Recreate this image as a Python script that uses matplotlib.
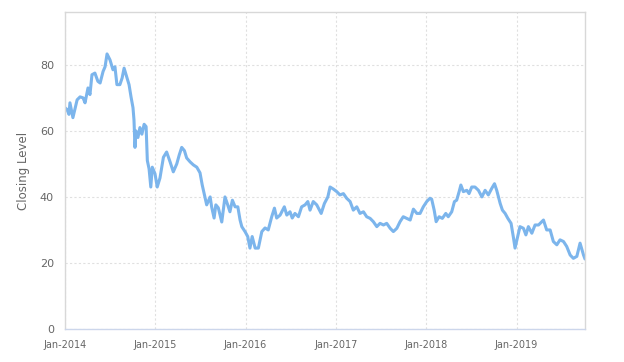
import matplotlib
matplotlib.use("Agg")
import matplotlib.pyplot as plt
import pandas as pd

dates = [
    "2014-01-01", "2014-01-09", "2014-01-17", "2014-01-21", "2014-02-02", "2014-02-19",
    "2014-03-03", "2014-03-15", "2014-03-23", "2014-04-04", "2014-04-12", "2014-04-20",
    "2014-05-02", "2014-05-14", "2014-05-23", "2014-06-04", "2014-06-12", "2014-06-20",
    "2014-07-02", "2014-07-14", "2014-07-22", "2014-07-30", "2014-08-11", "2014-08-20",
    "2014-08-28", "2014-09-09", "2014-09-17", "2014-09-25", "2014-10-03", "2014-10-07",
    "2014-10-11", "2014-10-15", "2014-10-23", "2014-10-31", "2014-11-08", "2014-11-17",
    "2014-11-25", "2014-11-30", "2014-12-07", "2014-12-14", "2014-12-20", "2014-12-31",
    "2015-01-09", "2015-01-20", "2015-02-03", "2015-02-16", "2015-03-02", "2015-03-15",
    "2015-03-29", "2015-04-08", "2015-04-18", "2015-04-29", "2015-05-08", "2015-05-22",
    "2015-06-04", "2015-06-18", "2015-07-01", "2015-07-10", "2015-07-21", "2015-07-28",
    "2015-08-11", "2015-08-17", "2015-08-27", "2015-09-03", "2015-09-13", "2015-09-27",
    "2015-10-10", "2015-10-21", "2015-10-30", "2015-11-09", "2015-11-20", "2015-12-01",
    "2015-12-10", "2015-12-17", "2015-12-30", "2016-01-10", "2016-01-19", "2016-01-28",
    "2016-02-09", "2016-02-22", "2016-03-07", "2016-03-20", "2016-04-02", "2016-04-16",
    "2016-04-27", "2016-05-06", "2016-05-20", "2016-06-06", "2016-06-16", "2016-06-29",
    "2016-07-08", "2016-07-19", "2016-08-02", "2016-08-15", "2016-08-29", "2016-09-09",
    "2016-09-18", "2016-10-01", "2016-10-15", "2016-11-02", "2016-11-15", "2016-11-29",
    "2016-12-08", "2016-12-21", "2017-01-04", "2017-01-17", "2017-01-31", "2017-02-13",
    "2017-02-27", "2017-03-12", "2017-03-26", "2017-04-08", "2017-04-22", "2017-05-05",
    "2017-05-19", "2017-06-01", "2017-06-15", "2017-06-28", "2017-07-12", "2017-07-25",
    "2017-08-08", "2017-08-21", "2017-09-04", "2017-09-17", "2017-09-30", "2017-10-14",
    "2017-10-28", "2017-11-10", "2017-11-24", "2017-12-07", "2017-12-20", "2018-01-03",
    "2018-01-16", "2018-01-23", "2018-02-02", "2018-02-10", "2018-02-22", "2018-03-07",
    "2018-03-21", "2018-03-31", "2018-04-14", "2018-04-25", "2018-05-04", "2018-05-14",
    "2018-05-21", "2018-05-31", "2018-06-14", "2018-06-23", "2018-07-04", "2018-07-17",
    "2018-07-31", "2018-08-14", "2018-08-27", "2018-09-09", "2018-09-23", "2018-10-04",
    "2018-10-13", "2018-10-27", "2018-11-05", "2018-11-16", "2018-11-27", "2018-12-10",
    "2018-12-20", "2018-12-26", "2019-01-09", "2019-01-15", "2019-01-29", "2019-02-08",
    "2019-02-18", "2019-03-04", "2019-03-17", "2019-03-31", "2019-04-13", "2019-04-20",
    "2019-05-03", "2019-05-17", "2019-05-30", "2019-06-13", "2019-06-26", "2019-07-10",
    "2019-07-23", "2019-08-06", "2019-08-19", "2019-09-02", "2019-09-15", "2019-09-29",
    "2019-10-05",
]

closing = [
    67, 66.5, 65, 68.5, 64, 69.4,
    70.3, 70, 68.5, 73, 71, 77,
    77.5, 75, 74.5, 78, 79.4, 83.3,
    81.5, 78.5, 79.4, 74, 74, 76,
    79, 76, 74, 70.3, 67, 63.3,
    55, 60, 58, 61, 59, 62,
    61.3, 51, 48.5, 43, 49, 47,
    43, 45.7, 52, 53.6, 50.6, 47.6,
    50, 52.7, 55, 54, 51.8, 50.6,
    49.7, 49, 47.3, 43.6, 40, 37.6,
    40, 37, 33.6, 37.6, 36.7, 32.4,
    40, 37.6, 35.5, 39, 37, 37,
    33, 31, 29.5, 28, 24.5, 28,
    24.5, 24.5, 29.5, 30.6, 30, 34,
    36.6, 33.6, 34.5, 37, 34.5, 35.5,
    33.6, 35, 34, 37, 37.6, 38.6,
    36, 38.6, 37.6, 35, 38, 40,
    43, 42.4, 41.6, 40.6, 41, 39.6,
    38.6, 36, 37, 35, 35.5, 34,
    33.5, 32.5, 31, 32, 31.5, 32,
    30.5, 29.5, 30.5, 32.5, 34, 33.5,
    33, 36.3, 35, 35, 37, 38.6,
    39.6, 39.3, 36, 32.5, 34, 33.5,
    35, 34, 35.5, 38.6, 39, 41.6,
    43.6, 41.6, 42, 41, 43, 43,
    42, 40, 42, 40.6, 42.6, 44,
    42, 38, 36, 35, 33.5, 32,
    27.5, 24.5, 29, 31, 30.5, 28.5,
    31, 29, 31.5, 31.5, 32.5, 33,
    30, 30, 26.5, 25.5, 27, 26.5,
    25, 22.4, 21.4, 22, 26, 22.4,
    21.2,
]

y_ticks = [0, 20, 40, 60, 80]
x_tick_years = [2014, 2015, 2016, 2017, 2018, 2019]
y_label = "Closing Level"

df = pd.DataFrame({"date": pd.to_datetime(dates), "close": closing})

fig = plt.figure(figsize=(6.24, 3.62), dpi=100)
ax = fig.add_axes([65 / 624, 1 - 329 / 362, 520 / 624, 317 / 362])

ax.plot(df["date"], df["close"], color="#7cb5ec", linewidth=2.2,
        solid_joinstyle="round", solid_capstyle="round")

ax.set_ylim(0, 96)
ax.set_xlim(pd.Timestamp("2014-01-01"), pd.Timestamp("2019-10-05"))
ax.set_yticks(y_ticks)
xt = [pd.Timestamp(f"{y}-01-01") for y in x_tick_years]
ax.set_xticks(xt)
ax.set_xticklabels([t.strftime("Jan-%Y") for t in xt])

ax.grid(True, color="#e0e0e0", linestyle=(0, (2, 2)), linewidth=0.8)
ax.set_axisbelow(True)

for side in ["top", "right", "left"]:
    ax.spines[side].set_color("#d8d8d8")
    ax.spines[side].set_linewidth(1.0)
ax.spines["bottom"].set_color("#ccd6eb")
ax.spines["bottom"].set_linewidth(1.0)

ax.tick_params(axis="y", length=0, pad=8, labelsize=8, labelcolor="#666666")
ax.tick_params(axis="x", length=0, pad=8, labelsize=7, labelcolor="#666666")
ax.set_ylabel(y_label, fontsize=8.5, color="#666666", labelpad=7)

fig.savefig("out.png", dpi=100, facecolor="white")
